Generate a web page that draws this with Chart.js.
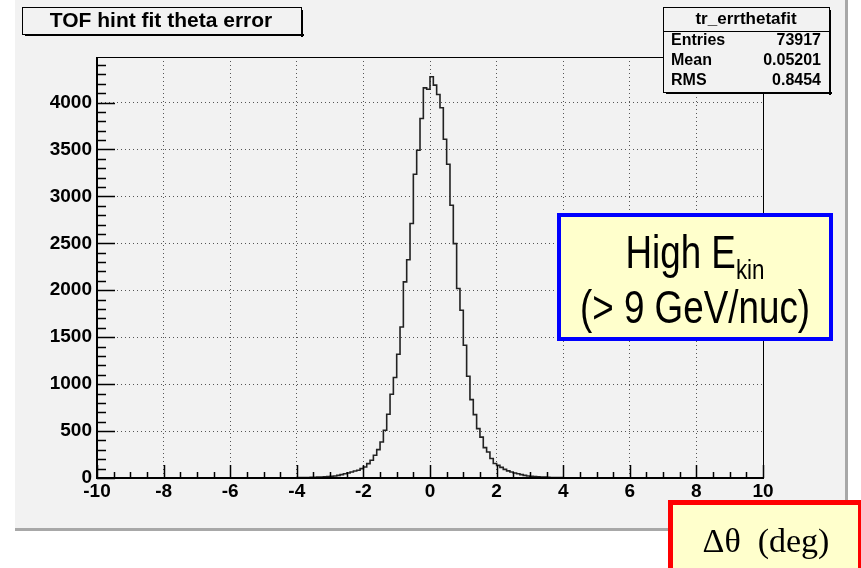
<!DOCTYPE html>
<html>
<head>
<meta charset="utf-8">
<script src="https://cdn.jsdelivr.net/npm/chart.js@4.4.1/dist/chart.umd.min.js"></script>
<style>
  html, body { margin: 0; padding: 0; background: #fff; }
</style>
</head>
<body>
<canvas id="myChart" width="861" height="568"></canvas>
<script>
// histogram binning (delta theta, deg)
const xMin = -10;
const xMax = 10;
const binWidth = 0.1;

// counts per 0.1 bin, one row per unit of x, starting at -10
const counts = [
  0, 0, 0, 0, 0, 0, 0, 0, 0, 0,
  0, 0, 0, 0, 0, 0, 0, 0, 0, 0,
  0, 0, 0, 0, 0, 0, 0, 0, 0, 0,
  0, 0, 0, 0, 0, 0, 0, 0, 0, 0,
  0, 0, 0, 0, 0, 0, 0, 0, 0, 0,
  1, 0, 1, 1, 1, 2, 2, 2, 3, 3,
  4, 4, 5, 6, 7, 8, 9, 11, 13, 15,
  18, 22, 28, 36, 46, 53, 64, 75, 82, 100,
  117, 153, 189, 242, 302, 384, 508, 679, 892, 1070,
  1318, 1609, 2089, 2325, 2711, 3236, 3492, 3830, 4156, 4141,
  4275, 4185, 4085, 3945, 3608, 3342, 2905, 2497, 2018, 1787,
  1414, 1084, 835, 675, 526, 435, 324, 277, 207, 155,
  135, 113, 92, 76, 64, 53, 46, 36, 28, 22,
  18, 15, 12, 10, 9, 7, 6, 5, 4, 4,
  3, 2, 2, 1, 1, 1, 1, 0, 1, 0,
  0, 0, 0, 0, 0, 0, 0, 0, 0, 0,
  0, 0, 0, 0, 0, 0, 0, 0, 0, 0,
  0, 0, 0, 0, 0, 0, 0, 0, 0, 0,
  0, 0, 0, 0, 0, 0, 0, 0, 0, 0,
  0, 0, 0, 0, 0, 0, 0, 0, 0, 0,
];

const yMax = 4485;
const xTicks = [-10, -8, -6, -4, -2, 0, 2, 4, 6, 8, 10];
const yTicks = [0, 500, 1000, 1500, 2000, 2500, 3000, 3500, 4000];
const titleText = 'TOF hint fit theta error';
const statsName = 'tr_errthetafit';
const statsLabels = ['Entries', 'Mean', 'RMS'];
const statsValues = ['73917', '0.05201', '0.8454'];

const sans = '"Liberation Sans", Arial, sans-serif';
const serif = '"Liberation Serif", "Times New Roman", serif';

// step points at the lower edge of each bin, plus the closing edge
const points = counts.map((c, i) => ({ x: xMin + i * binWidth, y: c }));
points.push({ x: xMax, y: 0 });

const drawBox = (ctx, x, y, w, h) => {
  ctx.fillStyle = '#000';
  ctx.fillRect(x + 3, y + h, w, 2);
  ctx.fillRect(x + w, y + 3, 2, h);
  ctx.fillStyle = '#f2f2f2';
  ctx.fillRect(x, y, w, h);
  ctx.strokeStyle = '#000';
  ctx.lineWidth = 1;
  ctx.strokeRect(x + 0.5, y + 0.5, w, h);
  ctx.fillStyle = '#000';
};

// condensed text: squeeze a normal sans horizontally
const narrowText = (ctx, text, x, y, size) => {
  ctx.save();
  ctx.font = size + 'px ' + sans;
  ctx.translate(x, y);
  ctx.scale(0.8, 1);
  ctx.fillText(text, 0, 0);
  ctx.restore();
};
const narrowWidth = (ctx, text, size) => {
  ctx.font = size + 'px ' + sans;
  return ctx.measureText(text).width * 0.8;
};

const decorations = {
  id: 'decorations',
  beforeDraw(chart) {
    const ctx = chart.ctx;
    ctx.save();
    ctx.fillStyle = '#fff';
    ctx.fillRect(0, 0, chart.width, chart.height);
    ctx.fillStyle = '#f2f2f2';
    ctx.fillRect(15, 0, 830, 528);
    ctx.fillStyle = '#a8a8a8';
    ctx.fillRect(15, 528, 833, 3);
    ctx.fillRect(845, 0, 3, 531);
    ctx.restore();
  },
  afterDraw(chart) {
    const ctx = chart.ctx;
    const { left, right, top, bottom } = chart.chartArea;
    const xs = chart.scales.x;
    const ys = chart.scales.y;
    ctx.save();

    // frame
    ctx.strokeStyle = '#000';
    ctx.lineWidth = 1;
    ctx.strokeRect(left + 0.5, top + 0.5, right - left, bottom - top);
    ctx.lineWidth = 2;
    ctx.beginPath();
    ctx.moveTo(left, top);
    ctx.lineTo(left, bottom);
    ctx.lineTo(right, bottom);
    ctx.stroke();

    // inward ticks: majors on the labelled values, minors in between
    ctx.lineWidth = 1.5;
    ctx.beginPath();
    for (let v = xMin; v <= xMax + 1e-9; v += 0.5) {
      const px = Math.round(xs.getPixelForValue(v)) + 0.5;
      const len = xTicks.some((t) => Math.abs(t - v) < 1e-9) ? 13 : 6;
      ctx.moveTo(px, bottom);
      ctx.lineTo(px, bottom - len);
    }
    for (let v = 0; v <= yMax; v += 100) {
      const py = Math.round(ys.getPixelForValue(v)) + 0.5;
      const len = yTicks.includes(v) ? 18 : 9;
      ctx.moveTo(left, py);
      ctx.lineTo(left + len, py);
    }
    ctx.stroke();

    // title box
    drawBox(ctx, 22, 7, 279, 27);
    ctx.font = 'bold 21px ' + sans;
    ctx.textAlign = 'center';
    ctx.textBaseline = 'middle';
    ctx.fillText(titleText, 161, 21);

    // stats box
    drawBox(ctx, 663, 7, 166, 85);
    ctx.beginPath();
    ctx.moveTo(663, 31.5);
    ctx.lineTo(829, 31.5);
    ctx.stroke();
    ctx.font = 'bold 17px ' + sans;
    ctx.fillText(statsName, 746, 19);
    ctx.font = 'bold 16px ' + sans;
    statsLabels.forEach((lab, i) => {
      const y = 41 + i * 20;
      ctx.textAlign = 'left';
      ctx.fillText(lab, 671, y);
      ctx.textAlign = 'right';
      ctx.fillText(statsValues[i], 821, y);
    });

    // energy note
    ctx.fillStyle = '#ffffcc';
    ctx.fillRect(557, 213, 276, 128);
    ctx.strokeStyle = '#0000ff';
    ctx.lineWidth = 4;
    ctx.strokeRect(559, 215, 272, 124);
    ctx.fillStyle = '#000';
    ctx.textBaseline = 'alphabetic';
    ctx.textAlign = 'left';
    const mainW = narrowWidth(ctx, 'High E', 46);
    const subW = narrowWidth(ctx, 'kin', 28);
    const x0 = 695 - (mainW + subW) / 2;
    narrowText(ctx, 'High E', x0, 268, 46);
    narrowText(ctx, 'kin', x0 + mainW, 279, 28);
    const line2W = narrowWidth(ctx, '(> 9 GeV/nuc)', 46);
    narrowText(ctx, '(> 9 GeV/nuc)', 695 - line2W / 2, 323, 46);

    // axis label box
    ctx.fillStyle = '#ffffcc';
    ctx.fillRect(668, 500, 193, 68);
    ctx.strokeStyle = '#ff0000';
    ctx.lineWidth = 5;
    ctx.strokeRect(670.5, 502.5, 190, 70);
    ctx.fillStyle = '#000';
    ctx.textAlign = 'center';
    ctx.font = '34px ' + serif;
    ctx.fillText('\u0394\u03b8  (deg)', 766, 552);

    ctx.restore();
  },
};

const gridColor = (edgeValues) => (c) =>
  edgeValues.includes(c.tick && c.tick.value) ? 'rgba(0,0,0,0)' : '#555';

new Chart(document.getElementById('myChart'), {
  type: 'line',
  data: {
    datasets: [
      {
        data: points,
        stepped: 'before',
        borderColor: '#222',
        borderWidth: 1.6,
        pointRadius: 0,
        fill: false,
      },
    ],
  },
  options: {
    responsive: false,
    animation: false,
    layout: { padding: { top: 57, right: 98, left: 0, bottom: 0 } },
    plugins: { legend: { display: false }, tooltip: { enabled: false } },
    scales: {
      x: {
        type: 'linear',
        min: xMin,
        max: xMax,
        afterFit: (s) => { s.height = 90; },
        afterBuildTicks: (s) => { s.ticks = xTicks.map((v) => ({ value: v })); },
        ticks: {
          color: '#000',
          font: { family: sans, size: 19, weight: 'bold' },
          padding: 2,
          maxRotation: 0,
          autoSkip: false,
          callback: (v) => String(v),
        },
        grid: { drawTicks: false, color: gridColor([xMin, xMax]), lineWidth: 1 },
        border: { display: false, dash: [1, 3] },
      },
      y: {
        min: 0,
        max: yMax,
        afterFit: (s) => { s.width = 97; },
        afterBuildTicks: (s) => { s.ticks = yTicks.map((v) => ({ value: v })); },
        ticks: {
          color: '#000',
          font: { family: sans, size: 19, weight: 'bold' },
          padding: 5,
          autoSkip: false,
          callback: (v) => String(v),
        },
        grid: { drawTicks: false, color: gridColor([0]), lineWidth: 1 },
        border: { display: false, dash: [1, 3] },
      },
    },
  },
  plugins: [decorations],
});
</script>
</body>
</html>
